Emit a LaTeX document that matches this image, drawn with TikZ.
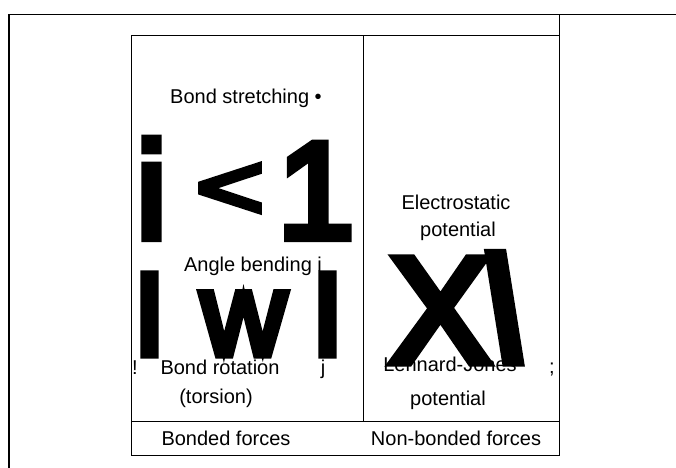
\documentclass[tikz,border=0pt]{standalone}
\usepackage{fontspec}
\setmainfont{Liberation Sans}
\newfontfamily\glyphfont{Liberation Sans}[FakeBold=6]
\begin{document}
\begin{tikzpicture}[x=1pt,y=-1pt,
  frame/.style={line width=1.6pt, line cap=rect},
  lbl/.style={inner sep=0pt, anchor=mid, font=\fontsize{20}{22}\selectfont},
  bigA/.style={inner sep=0pt, anchor=base, font=\glyphfont\fontsize{137}{140}\selectfont},
  bigB/.style={inner sep=0pt, anchor=base, font=\glyphfont\fontsize{118}{120}\selectfont},
  bigC/.style={inner sep=0pt, anchor=base, font=\glyphfont\fontsize{150}{150}\selectfont}]
\useasboundingbox (0,0) rectangle (676,467);
\fill[white] (0,0) rectangle (676,467);
% frame lines
\coordinate (tl) at (9,14.5);
\coordinate (tr) at (676,14.5);
\coordinate (bl) at (9,467);
\coordinate (rtop) at (559.3,14.5);
\coordinate (itl) at (131.5,35.3);
\coordinate (itr) at (559.3,35.3);
\coordinate (ibl) at (131.5,455.3);
\coordinate (ibr) at (559.3,455.3);
\coordinate (mtop) at (363.3,35.3);
\coordinate (mbot) at (363.3,421.3);
\coordinate (dl) at (131.5,421.3);
\coordinate (dr) at (559.3,421.3);
\draw[frame] (bl) -- (tl) -- (tr);
\draw[frame] (rtop) -- (ibr);
\draw[frame] (itr) -- (itl) -- (ibl) -- (ibr);
\draw[frame] (mtop) -- (mbot);
\draw[frame] (dl) -- (dr);
% big glyphs
\node[bigA] (g1) at (151.5,238) {i};
\begin{scope}[shift={(230,191.5)}, xscale=0.85, yscale=0.66]
\node[bigA, anchor=center, transform shape] (g2) at (0,0) {<};
\end{scope}
\node[bigA] (g3) at (316,238) {1};
\node[bigB] (g4) at (149.5,355) {I};
\node[bigB] (g5) at (243.5,355) {w};
\node[bigB] (g6) at (327.5,355) {I};
\node[bigC] (g7) at (440,362) {X};
\begin{scope}[shift={(513,362)}, xslant=-0.16]
\node[bigC, transform shape] (g8) at (0,0) {l};
\end{scope}
% labels
\node[lbl] (t1) at (246,101) {Bond stretching •};
\node[lbl] (t2) at (456,207) {Electrostatic};
\node[lbl] (t3) at (458,234) {potential};
\node[lbl] (t4) at (253,269) {Angle bending i};
\node[lbl] (t5) at (135,372) {!};
\node[lbl] (t6) at (220,372) {Bond rotation};
\node[lbl] (t7) at (323,372) {j};
\node[lbl] (t8) at (216,401) {(torsion)};
\node[lbl] (t9) at (450,369) {Lennard-Jones};
\node[lbl] (t10) at (552,371) {;};
\node[lbl] (t11) at (448,403) {potential};
\node[lbl] (t12) at (226,443) {Bonded forces};
\node[lbl] (t13) at (456,443) {Non-bonded forces};
\end{tikzpicture}
\end{document}
